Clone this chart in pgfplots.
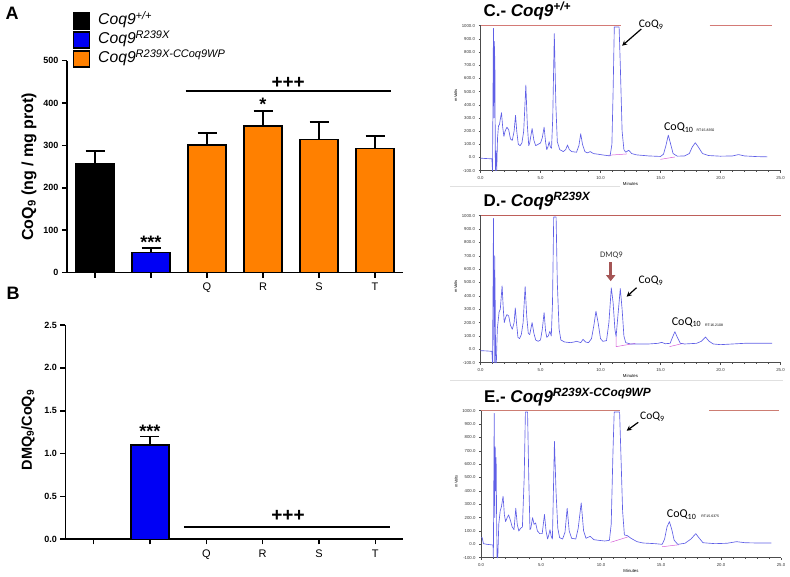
\documentclass[border=0pt]{standalone}
\usepackage{fontspec}
\setmainfont{Liberation Sans}
\newfontfamily\calibri{Carlito}
\usepackage{pgfplots}
\pgfplotsset{compat=1.18}
\usetikzlibrary{arrows.meta}

\definecolor{barblue}{RGB}{0,0,245}
\definecolor{barorange}{RGB}{255,128,0}
\definecolor{trace}{RGB}{95,95,230}
\definecolor{topredc}{RGB}{212,122,118}
\definecolor{topredd}{RGB}{190,95,90}
\definecolor{toprede}{RGB}{205,125,115}
\definecolor{intpink}{RGB}{215,95,215}
\definecolor{dmqarrow}{RGB}{165,85,85}

\pgfplotsset{
 sqleg/.style={legend image code/.code={\draw[##1,draw=black,line width=1.2pt] (0pt,-8pt) rectangle (16pt,8pt);}},
 barax/.style={scale only axis, xmin=-0.5, xmax=5.5,
   axis x line*=bottom, axis y line*=left,
   axis line style={line width=1.6pt},
   tick align=outside, major tick length=5pt,
   tick style={line width=1.6pt,black},
   xtick={0,...,5}, xticklabels={,,Q,R,S,T},
   xticklabel style={font=\fontsize{11}{11}\selectfont, yshift=-2pt},
   yticklabel style={font=\bfseries\fontsize{9}{9}\selectfont},
   /pgf/number format/assume math mode=true,
   error bars/y dir=plus, error bars/y explicit,
   error bars/error bar style={line width=1.6pt, black},
   error bars/error mark options={rotate=90, line width=1.6pt, mark size=9.5pt, black},
   clip=false},
 chrom/.style={scale only axis, width=300pt, xmin=0, xmax=25, ymin=-100, ymax=1000,
   axis x line*=bottom, axis y line*=left,
   axis line style={line width=0.5pt, black!70},
   tick align=outside, major tick length=2pt, minor tick length=1.2pt,
   tick style={line width=0.4pt, black!70},
   xtick={0,5,...,25}, minor x tick num=4,
   ytick={-100,0,100,200,300,400,500,600,700,800,900,1000},
   ticklabel style={font=\fontsize{4.3}{4.3}\selectfont, text=black!80},
   /pgf/number format/.cd, fixed, fixed zerofill, precision=1, 1000 sep={}, assume math mode=true, /pgfplots/.cd,
   xlabel={Minutes}, ylabel={mVolts},
   xlabel style={font=\fontsize{4.3}{4.3}\selectfont, at={(axis description cs:0.5,0)}, anchor=center, yshift=-13pt},
   ylabel style={font=\fontsize{4}{4}\selectfont, at={(axis description cs:-0.083,0.52)}, anchor=center},
   clip=false},
 tr/.style={trace, line width=0.65pt, line join=round, no marks},
 rl/.style={line width=1.1pt, no marks, forget plot},
 ip/.style={intpink, line width=0.5pt, no marks, forget plot},
}

\begin{document}
\begin{tikzpicture}
\useasboundingbox (0pt,0pt) rectangle (790pt,577pt);

% ---------- Panel A ----------
\begin{axis}[barax, at={(67pt,304.3pt)}, anchor=south west, width=336pt, height=212pt,
  ymin=0, ymax=500, ytick={0,100,200,300,400,500},
  ylabel={\textbf{CoQ\textsubscript{9} (ng / mg prot)}},
  ylabel style={font=\fontsize{16}{16}\selectfont, at={(axis description cs:-0.113,0.5)}, anchor=center},
  legend style={at={(axis description cs:0.0179,1.232)}, anchor=north west, draw=none, fill=none,
    inner sep=0pt, outer sep=0pt, row sep=0pt, font=\itshape\fontsize{15.7}{15.7}\selectfont,
    nodes={text height=11pt, text depth=4pt, inner sep=2pt},
    /tikz/every odd column/.append style={column sep=6pt}},
  legend cell align=left]
\addplot[ybar, bar width=38pt, bar shift=0pt, fill=black, draw=black, line width=1.2pt, sqleg]
  coordinates {(0,257) +- (0,30)};
\addlegendentry{Coq9\textsuperscript{+/+}}
\addplot[ybar, bar width=38pt, bar shift=0pt, fill=barblue, draw=black, line width=1.2pt, sqleg]
  coordinates {(1,47) +- (0,11)};
\addlegendentry{Coq9\textsuperscript{R239X}}
\addplot[ybar, bar width=38pt, bar shift=0pt, fill=barorange, draw=black, line width=1.2pt, sqleg]
  coordinates {(2,301) +- (0,29) (3,346) +- (0,35) (4,314) +- (0,41) (5,293) +- (0,29)};
\addlegendentry{Coq9\textsuperscript{R239X-CCoq9WP}}
\addplot[black, line width=1.6pt, no marks, forget plot] coordinates {(1.62,429) (5.29,429)};
\node[anchor=base, font=\bfseries\fontsize{19}{19}\selectfont] at (axis cs:3.45,434) {+++};
\node[anchor=base, font=\bfseries\fontsize{18}{18}\selectfont] at (axis cs:3,383) {*};
\node[anchor=base, font=\bfseries\fontsize{18}{18}\selectfont] at (axis cs:1,58) {***};
\end{axis}

% ---------- Panel B ----------
\begin{axis}[barax, at={(65.5pt,37.7pt)}, anchor=south west, width=338pt, height=214.3pt,
  ymin=0, ymax=2.5, ytick={0,0.5,1,1.5,2,2.5},
  yticklabel style={/pgf/number format/.cd, fixed, fixed zerofill, precision=1},
  ylabel={\textbf{DMQ\textsubscript{9}/CoQ\textsubscript{9}}},
  ylabel style={font=\fontsize{14.5}{14.5}\selectfont, at={(axis description cs:-0.111,0.51)}, anchor=center}]
\addplot[ybar, bar width=38pt, bar shift=0pt, fill=barblue, draw=black, line width=1.2pt]
  coordinates {(1,1.10) +- (0,0.10)};
\addplot[black, line width=1.6pt, no marks, forget plot] coordinates {(1.6,0.14) (5.26,0.14)};
\node[anchor=base, font=\bfseries\fontsize{19}{19}\selectfont] at (axis cs:3.45,0.205) {+++};
\node[anchor=base, font=\bfseries\fontsize{18}{18}\selectfont] at (axis cs:1,1.19) {***};
\end{axis}

\node[anchor=base west, font=\bfseries\fontsize{18}{18}\selectfont] at (2pt,557.7pt) {A};
\node[anchor=base west, font=\bfseries\fontsize{18}{18}\selectfont] at (3pt,277pt) {B};

% ---------- Panel C ----------
\begin{axis}[chrom, at={(480.5pt,406.3pt)}, anchor=south west, height=145pt]
\addplot[rl, color=topredc] coordinates {(0,1000) (11.7,1000)};
\addplot[rl, color=topredc] coordinates {(19.1,1000) (24.3,1000)};
\addplot[ip] coordinates {(10.65,17) (12.2,27)};
\addplot[ip] coordinates {(15.0,-14) (16.2,4)};
\addplot[tr] coordinates {
(0,-5) (0.5,-8) (0.95,-10) (1.0,-100) (1.05,600) (1.08,980) (1.12,300) (1.15,880) (1.2,700) (1.24,-100) (1.3,50) (1.35,-100) (1.42,150) (1.5,240) (1.58,250) (1.65,290) (1.75,340) (1.85,230) (1.95,160) (2.05,200) (2.2,230) (2.35,210) (2.5,140) (2.65,130) (2.8,200) (2.92,320) (3.02,200) (3.15,100) (3.3,90) (3.45,110) (3.6,200) (3.78,550) (3.9,250) (4.02,90) (4.1,110) (4.3,220) (4.45,130) (4.6,90) (4.8,100) (5.0,110) (5.15,150) (5.3,230) (5.42,120) (5.52,60) (5.62,80) (5.72,120) (5.82,80) (5.92,70) (6.02,300) (6.15,940) (6.28,400) (6.4,120) (6.6,60) (6.9,45) (7.1,60) (7.25,95) (7.4,60) (7.6,45) (8.0,40) (8.2,90) (8.35,180) (8.5,100) (8.7,45) (8.9,35) (9.15,45) (9.4,30) (9.8,25) (10.3,18) (10.8,12) (10.95,100) (11.05,500) (11.15,990) (11.55,990) (11.65,700) (11.8,200) (11.95,60) (12.1,40) (12.35,55) (12.6,30) (13.0,20) (14.0,12) (15.0,8) (15.25,25) (15.45,90) (15.65,170) (15.85,100) (16.05,30) (16.4,10) (17.0,12) (17.4,30) (17.65,80) (17.9,112) (18.15,80) (18.5,30) (19.0,15) (20.0,10) (21.0,12) (21.5,22) (22.0,12) (23.0,7) (23.9,5)};
\node[anchor=base west, font=\calibri\fontsize{11.5}{12}\selectfont] at (axis cs:12.9,988) {CoQ\textsubscript{9}};
\draw[-{Stealth[length=5pt,width=5pt]}, line width=1.2pt] (axis cs:13.4,975) -- (axis cs:11.8,848);
\node[anchor=base west, font=\calibri\fontsize{12}{12}\selectfont] at (axis cs:15.0,203) {CoQ\textsubscript{10}};
\node[font=\fontsize{3.5}{4}\selectfont] at (axis cs:18.75,205) {RT:15.8350};
\end{axis}
\node[anchor=base west, font=\bfseries\fontsize{17}{17}\selectfont] at (480pt,560.3pt) {C.- \textit{Coq9\textsuperscript{+/+}}};
\draw[black!12, line width=0.5pt] (450pt,390.3pt) -- (620pt,390.3pt);

% ---------- Panel D ----------
\begin{axis}[chrom, at={(480.5pt,214.3pt)}, anchor=south west, height=147pt]
\addplot[rl, color=topredd] coordinates {(0,1000) (25,1000)};
\addplot[ip] coordinates {(11.3,95) (11.3,20) (12.9,45)};
\addplot[ip] coordinates {(15.75,20) (16.9,45)};
\addplot[tr] coordinates {
(0,-10) (0.5,-12) (0.95,-15) (1.0,-100) (1.05,500) (1.08,980) (1.12,100) (1.15,-100) (1.18,700) (1.22,400) (1.26,-100) (1.32,-100) (1.4,150) (1.55,280) (1.65,300) (1.8,475) (1.9,300) (1.98,200) (2.1,240) (2.2,260) (2.35,250) (2.5,180) (2.65,150) (2.8,200) (2.9,310) (3.0,200) (3.12,90) (3.25,80) (3.4,110) (3.55,200) (3.72,470) (3.85,250) (3.98,120) (4.1,110) (4.3,200) (4.45,120) (4.6,70) (4.8,60) (5.0,70) (5.15,150) (5.3,275) (5.42,140) (5.52,90) (5.65,100) (5.78,135) (5.9,100) (6.0,350) (6.1,990) (6.3,990) (6.4,500) (6.55,150) (6.7,70) (7.0,55) (7.5,50) (7.8,55) (8.0,60) (8.2,55) (8.35,50) (8.55,75) (8.75,55) (9.0,50) (9.25,80) (9.45,180) (9.62,285) (9.8,200) (10.0,80) (10.2,60) (10.5,65) (10.7,200) (10.9,460) (11.05,350) (11.2,150) (11.3,95) (11.45,250) (11.65,455) (11.8,300) (11.95,100) (12.1,50) (12.5,40) (13.0,40) (14.0,40) (14.8,45) (15.1,52) (15.4,42) (15.8,45) (16.0,90) (16.2,132) (16.4,90) (16.65,45) (17.0,40) (18.0,45) (18.4,60) (18.75,92) (19.05,60) (19.4,40) (20.0,35) (21.0,40) (22.0,45) (23.0,45) (24.3,45)};
\node[anchor=base, font=\calibri\fontsize{8.5}{9}\selectfont, text=black!80] at (axis cs:10.9,686) {DMQ9};
\draw[-{Triangle[length=6pt,width=9pt]}, line width=3.2pt, dmqarrow] (axis cs:10.85,650) -- (axis cs:10.85,510);
\node[anchor=base west, font=\calibri\fontsize{11.5}{12}\selectfont] at (axis cs:12.88,494) {CoQ\textsubscript{9}};
\draw[-{Stealth[length=5pt,width=5pt]}, line width=1.2pt] (axis cs:13.0,461) -- (axis cs:12.18,394);
\node[anchor=base west, font=\calibri\fontsize{12}{12}\selectfont] at (axis cs:15.65,182) {CoQ\textsubscript{10}};
\node[font=\fontsize{3.5}{4}\selectfont] at (axis cs:19.46,180) {RT:16.2108};
\end{axis}
\node[anchor=base west, font=\bfseries\fontsize{17}{17}\selectfont] at (480pt,370.3pt) {D.- \textit{Coq9\textsuperscript{R239X}}};
\draw[black!12, line width=0.5pt] (450pt,197pt) -- (783pt,197pt);

% ---------- Panel E ----------
\begin{axis}[chrom, at={(481pt,19.3pt)}, anchor=south west, height=147pt]
\addplot[rl, color=toprede] coordinates {(0,1000) (11.6,1000)};
\addplot[rl, color=toprede] coordinates {(19.0,1000) (24.8,1000)};
\addplot[ip] coordinates {(10.8,15) (12.3,57)};
\addplot[ip] coordinates {(15.1,-18) (16.5,-3)};
\addplot[tr] coordinates {
(0,50) (0.1,50) (0.2,5) (0.5,0) (1.0,-5) (1.03,-100) (1.07,500) (1.1,980) (1.14,200) (1.18,730) (1.22,400) (1.26,650) (1.3,200) (1.34,-100) (1.4,-100) (1.48,150) (1.6,250) (1.7,280) (1.84,360) (1.95,220) (2.05,170) (2.18,200) (2.3,220) (2.45,180) (2.6,130) (2.75,110) (2.9,270) (3.02,150) (3.15,100) (3.3,120) (3.45,130) (3.6,500) (3.7,990) (3.88,990) (3.98,500) (4.08,110) (4.15,120) (4.3,200) (4.42,150) (4.55,160) (4.7,100) (4.9,80) (5.1,80) (5.29,224) (5.42,100) (5.55,40) (5.65,70) (5.75,110) (5.85,60) (5.95,40) (6.0,250) (6.12,770) (6.25,400) (6.4,120) (6.55,50) (6.8,40) (7.0,90) (7.18,270) (7.35,100) (7.55,45) (7.9,40) (8.1,120) (8.35,310) (8.55,100) (8.75,45) (9.1,60) (9.4,35) (9.8,30) (10.3,25) (10.7,30) (10.85,150) (11.0,700) (11.1,990) (11.55,990) (11.65,700) (11.8,250) (11.95,70) (12.2,65) (12.5,45) (13.0,20) (13.5,10) (14.5,5) (15.1,0) (15.3,40) (15.5,130) (15.7,170) (15.9,110) (16.1,30) (16.4,0) (17.0,8) (17.5,40) (17.9,80) (18.15,50) (18.5,12) (19.5,5) (20.5,8) (21.3,20) (22.0,12) (23.0,10) (24.2,10)};
\node[anchor=base west, font=\calibri\fontsize{11.5}{12}\selectfont] at (axis cs:12.97,931) {CoQ\textsubscript{9}};
\draw[-{Stealth[length=5pt,width=5pt]}, line width=1.2pt] (axis cs:13.1,913) -- (axis cs:12.14,850);
\node[anchor=base west, font=\calibri\fontsize{12}{12}\selectfont] at (axis cs:15.2,202) {CoQ\textsubscript{10}};
\node[font=\fontsize{3.5}{4}\selectfont] at (axis cs:19.1,207) {RT:15.6375};
\end{axis}
\node[anchor=base west, font=\bfseries\fontsize{17}{17}\selectfont] at (480.5pt,174.3pt) {E.- \textit{Coq9\textsuperscript{R239X-CCoq9WP}}};
\end{tikzpicture}
\end{document}
